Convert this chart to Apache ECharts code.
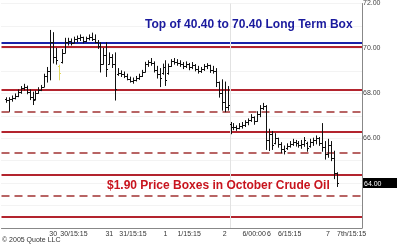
<!DOCTYPE html>
<html><head><meta charset="utf-8">
<script src="https://cdn.jsdelivr.net/npm/echarts@6/dist/echarts.min.js"></script>
<style>html,body{margin:0;padding:0;background:#fff}#c{width:400px;height:244px}</style>
</head><body><div id="c"></div>
<script>
// ---- data ----
const categoryCount = 122;
const labelIndex = [17, 24, 36, 44, 55, 63, 75, 85, 90, 97, 110, 118];
const labelText = ['30', '30/15:15', '31', '31/15:15', '1', '1/15:15', '2', '6/00:00', '6', '6/15:15', '7', '7th/15:15'];
const yTicks = [64, 66, 68, 70, 72];
const lastPrice = 64;
const opens = [67.75,67.7,67.75,67.8,67.9,68.05,68.25,68.3,68.05,67.85,67.75,68.0,68.15,68.3,68.75,69.0,70.3,69.6,69.2,69.4,69.8,70.3,70.35,70.25,70.4,70.45,70.5,70.35,70.45,70.5,70.4,70.3,70.1,69.3,69.7,69.3,69.6,69.3,68.85,68.9,68.85,68.75,68.65,68.55,68.6,68.7,68.75,68.95,69.3,69.4,69.35,69.05,68.85,68.9,69.15,68.9,69.2,69.45,69.4,69.35,69.3,69.2,69.3,69.15,69.25,69.1,69.0,69.1,69.2,69.25,69.05,69.0,68.5,68.0,67.6,67.4,66.65,66.5,66.5,66.45,66.55,66.6,66.7,66.8,66.95,66.75,67.1,67.35,67.45,65.9,66.2,65.8,66.0,65.75,65.5,65.55,65.65,65.75,65.85,65.8,65.7,65.75,65.8,65.65,65.85,65.9,66.0,65.8,65.6,65.3,65.7,65.1,64.45];
const highs = [67.8,67.8,67.88,67.97,68.15,68.3,68.4,68.32,68.15,68.05,68.1,68.25,68.35,68.85,69.15,70.8,70.7,70.0,69.25,69.95,70.45,70.45,70.42,70.5,70.55,70.6,70.5,70.5,70.6,70.68,70.6,70.35,70.25,70.0,70.25,69.8,69.72,69.8,69.1,69.0,68.95,68.85,68.72,68.68,68.75,68.85,69.02,69.38,69.45,69.55,69.4,69.2,69.1,69.3,69.45,69.3,69.5,69.55,69.5,69.45,69.37,69.4,69.33,69.37,69.28,69.2,69.15,69.28,69.32,69.25,69.2,69.1,68.5,68.6,68.5,68.3,66.7,66.65,66.55,66.65,66.7,66.78,66.86,67.05,66.95,67.18,67.45,67.55,67.45,66.4,66.3,66.2,66.0,65.8,65.65,65.75,65.85,65.95,65.9,65.85,65.9,66.03,65.82,65.95,66.0,66.1,66.03,66.65,65.85,65.95,65.85,65.42,64.46];
const lows = [67.6,67.2,67.65,67.75,67.85,68.0,68.15,67.98,67.72,67.5,67.7,68.0,68.12,68.3,68.5,68.6,69.35,69.3,68.6,69.35,69.8,70.15,70.15,70.25,70.3,70.35,70.25,70.3,70.38,70.35,70.25,70.0,68.95,69.3,68.75,69.3,69.15,67.7,68.8,68.75,68.7,68.6,68.5,68.45,68.55,68.62,68.75,68.95,69.2,69.25,68.95,68.68,68.3,68.85,68.35,68.85,69.2,69.3,69.25,69.2,69.1,69.15,69.05,69.1,69.0,68.9,68.93,69.02,69.1,68.93,68.9,68.3,67.83,67.25,67.18,67.25,66.2,66.38,66.35,66.42,66.45,66.52,66.6,66.75,66.62,66.75,66.96,67.28,65.5,65.45,65.5,65.75,65.6,65.35,65.3,65.5,65.6,65.68,65.65,65.6,65.55,65.64,65.42,65.6,65.68,65.75,65.68,65.42,65.07,65.15,65.0,64.2,63.85];
const closes = [67.7,67.75,67.8,67.9,68.05,68.25,68.3,68.05,67.85,67.7,68.0,68.15,68.3,68.75,69.0,70.3,69.6,69.5,68.9,69.8,70.3,70.35,70.25,70.4,70.45,70.5,70.35,70.45,70.5,70.4,70.3,70.1,69.3,69.7,69.1,69.6,69.3,68.2,68.9,68.85,68.75,68.65,68.55,68.6,68.7,68.75,68.95,69.3,69.4,69.35,69.05,68.85,68.7,69.15,68.6,69.2,69.45,69.4,69.35,69.3,69.2,69.3,69.15,69.25,69.1,69.0,69.1,69.2,69.25,69.05,69.0,68.5,68.0,67.6,67.4,67.5,66.5,66.5,66.45,66.55,66.6,66.7,66.8,66.95,66.75,67.1,67.35,67.45,65.9,66.2,65.7,66.0,65.75,65.5,65.45,65.65,65.75,65.85,65.8,65.7,65.75,65.9,65.55,65.85,65.9,66.0,65.8,65.6,65.3,65.7,65.1,64.45,64.0];
const firstBarCategory = 1;
const highlightedBar = 18;          // the one yellow bar (0-based bar number)
const topBoxLevel = 70.26;          // blue line
const solidLevels = [70.07, 68.15, 66.30, 64.39, 62.50];
const dashedLevels = [67.17, 65.33, 63.45];
const sessionBreakCategory = 77;

// ---- build ----
const categories = [];
for (let i = 0; i < categoryCount; i++) categories.push('');
labelIndex.forEach((k, j) => { categories[k] = labelText[j]; });

const barData = opens.map((o, k) => [k + firstBarCategory, o, highs[k], lows[k], closes[k], k === highlightedBar ? 1 : 0]);

const chart = echarts.init(document.getElementById('c'), null, {renderer: 'canvas'});
const FONT = '"Liberation Sans", Arial, sans-serif';

const hLines = [];
hLines.push({yAxis: topBoxLevel, lineStyle: {color: '#1a22a8', width: 2, type: 'solid'}});
solidLevels.forEach(v => hLines.push({yAxis: v, lineStyle: {color: '#b3242e', width: 2, type: 'solid'}}));
dashedLevels.forEach(v => hLines.push({yAxis: v, lineStyle: {color: '#b86464', width: 2, type: [8, 5]}}));

chart.setOption({
  animation: false,
  backgroundColor: '#fff',
  grid: {left: 0, right: 34, top: 0, bottom: 16, containLabel: false},
  xAxis: {
    type: 'category', data: categories, boundaryGap: true,
    axisLine: {show: true, lineStyle: {color: '#888', width: 1}},
    axisTick: {show: false},
    axisLabel: {interval: 0, fontSize: 7, fontFamily: FONT, color: '#333', margin: 3},
    splitLine: {show: false}
  },
  yAxis: {
    type: 'value', position: 'right', min: 62, max: 72, interval: 2,
    axisLine: {show: true, lineStyle: {color: '#888', width: 1}},
    axisTick: {show: false},
    axisLabel: {
      fontSize: 7, fontFamily: FONT, color: '#444', margin: 1,
      formatter: v => yTicks.indexOf(v) < 0 ? '' : (v === lastPrice ? '{hl|' + v.toFixed(2) + '}' : v.toFixed(2)),
      rich: {hl: {backgroundColor: '#000', color: '#fff', fontSize: 7, fontFamily: FONT,
                  width: 33, padding: [2, 0, 1, 1], lineHeight: 8}}
    },
    splitLine: {show: true, lineStyle: {color: '#e6e6e6', type: 'dotted'}},
    minorTick: {show: false, splitNumber: 2},
    minorSplitLine: {show: true, lineStyle: {color: '#e6e6e6', type: 'dotted'}}
  },
  series: [
    {
      type: 'line', data: [], silent: true, symbol: 'none', z: 1,
      markLine: {
        silent: true, symbol: 'none', label: {show: false},
        data: hLines.concat([{xAxis: sessionBreakCategory, lineStyle: {color: '#e2e2e2', width: 1, type: 'solid'}}])
      }
    },
    {
      type: 'custom', data: barData, encode: {x: 0, y: [1, 2, 3, 4]}, z: 5,
      renderItem: function (params, api) {
        const c = api.value(0);
        const px = Math.round(api.coord([c, 0])[0]) + 0.5;
        const yo = api.coord([c, api.value(1)])[1];
        const yh = api.coord([c, api.value(2)])[1];
        const yl = api.coord([c, api.value(3)])[1];
        const yc = api.coord([c, api.value(4)])[1];
        const col = api.value(5) ? '#e0d860' : '#111';
        const st = {stroke: col, lineWidth: 1};
        return {type: 'group', children: [
          {type: 'line', shape: {x1: px, y1: yh - 0.5, x2: px, y2: yl + 0.5}, style: st},
          {type: 'line', shape: {x1: px - 1.5, y1: Math.round(yo) + 0.5, x2: px, y2: Math.round(yo) + 0.5}, style: st},
          {type: 'line', shape: {x1: px, y1: Math.round(yc) + 0.5, x2: px + 1.5, y2: Math.round(yc) + 0.5}, style: st}
        ]};
      }
    }
  ],
  graphic: [
    {type: 'text', left: 145, top: 19, z: 100, style: {text: 'Top of 40.40 to 70.40 Long Term Box', font: 'bold 12px ' + FONT, fill: '#1a1a9e'}},
    {type: 'text', left: 107, top: 180, z: 100, style: {text: '$1.90 Price Boxes in October Crude Oil', font: 'bold 12px ' + FONT, fill: '#c8141e'}},
    {type: 'text', left: 2, top: 237, z: 100, style: {text: '© 2005 Quote LLC', font: '7px ' + FONT, fill: '#333'}}
  ]
});
</script>
</body></html>
